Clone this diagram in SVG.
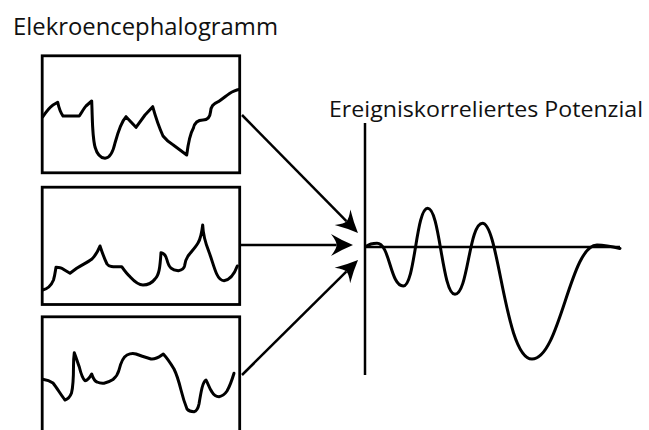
<svg xmlns="http://www.w3.org/2000/svg" width="649" height="430" viewBox="0 0 649 430">
<style>
.frame{fill:none;stroke:#000;stroke-width:2.8}
.wave{fill:none;stroke:#000;stroke-width:3;stroke-linejoin:round;stroke-linecap:round}
.axis{fill:none;stroke:#000;stroke-width:2.5}
.conn{fill:none;stroke:#000;stroke-width:2.5}
.lbl{font-family:"Open Sans","Noto Sans",sans-serif;font-size:24px;fill:#111}
.lbl2{font-family:"Open Sans","Noto Sans",sans-serif;font-size:22.5px;fill:#111}
</style>
<defs>
<marker id="arr" markerUnits="userSpaceOnUse" markerWidth="24" markerHeight="24" viewBox="0 0 24 24" refX="6.5" refY="12" orient="auto">
<path d="M23,12 Q12,7.5 1,1 Q7,9 6.5,12 Q7,15 1,23 Q12,16.5 23,12 Z" fill="#000"/>
</marker>
</defs>
<rect width="649" height="430" fill="#fff"/>
<g id="title-eeg"><text class="lbl" x="13" y="35" textLength="265" lengthAdjust="spacingAndGlyphs">Elekroencephalogramm</text></g>
<g id="eeg1">
<rect class="frame" x="42.2" y="55.8" width="197.5" height="117"/>
<path class="wave" d="M42.7,117 C46,112 50,107 53,105 L57.7,102.3 C58.5,106 60,112 63,116 L79.3,116 C82,112 84,108 86,106 L91.7,101 C92.5,118 92,135 95,147 C97,154 101,158 105,158.3 C110,158 113,152 115,143 C118,132 122,121 126,116.7 L136,127.3 L145,115 L152.7,106.7 C155,115 158,125 163,136 C167,141 170,143 173.3,145 L186.7,155 C188,145 190,134 193.3,128.3 C195,121 199,120 203,120 C208,120 210,117 210.5,112 C211,106 213,104 218.3,101.7 C224,98 228,94 232,92 C235,90.5 237,90 239,89.3"/>
</g>
<g id="eeg2">
<rect class="frame" x="42.2" y="187.2" width="197.5" height="117.3"/>
<path class="wave" d="M42.7,290 C47,289 51,286 53.5,280 C55,275 55.5,270 56,267.3 C60,267.5 62,268 63.3,269.3 L70,273.3 L76.7,268.3 C82,265 88,262 92,259 C96,255 98,251 100,246 C102,252 104,258 107,264 C109,267 112,267 121.7,266.7 C124,270 127,274 130,276.7 C134,281 138,285 143,285 C148,285 152,283 155,279 C159,275 160,268 161,252.7 C164,253 166,256 167,260 C169,268 172,270 178.3,270.7 C182,270 184,269 184.5,266 C185,262 186,259 188,256 C191,252 195,248 198,243 C201,238 202,231 202.7,225 C203,233 205,242 209,252 C212,260 214,268 216.7,274 C219,279 221,280.7 224,280.7 C229,280 234,275 237.3,266"/>
</g>
<g id="eeg3">
<rect class="frame" x="42.2" y="316.8" width="197.5" height="130"/>
<path class="wave" d="M42.7,379.3 C47,380 50,381 53,383 C57,388 61,395 65,400 C68,399 70,397 71.5,393 C73,387 73.5,375 73.5,366 C73.5,360 74,355 74.3,352.7 C76,357 77.5,362 79.3,367 C81,374 82,378 85,380.7 C88,380.5 89.5,378 91.7,374 C93,378 94,381 97,382 C99,383 101,383.5 104,383.2 C107,382.5 110,381.5 113,379.5 C116,377 118,374 119,370 C121,362 123,357 127,355 C131,353 133,353 136,354 C141,356 146,357.5 151,359 C156,359.7 159,357 163.3,354 C167,358 171,364 174,369 C177,375 179,382 181,390 C183,398 185,404 187,409 C189,411.5 191,411.7 194,411.7 C197,411 198,409 199,404 C200,398 201,392 202,388 C203,384 204,381 206,380 C208,383 209,388 212,392 C214,395.5 216,396.7 219,396.7 C223,396 225,394 227,391 C230,386 232,380 234,373.3"/>
</g>
<g id="erp">
<text class="lbl2" x="329" y="116.5" textLength="314" lengthAdjust="spacingAndGlyphs">Ereigniskorreliertes Potenzial</text>
<line class="axis" x1="365" y1="123" x2="365" y2="375"/>
<line class="axis" x1="365" y1="247" x2="620" y2="247"/>
<path class="wave" d="M366,246.5 C370,243.6 373,243.3 377,243.3 C390,243.3 390,286 403.3,286 C415,286 416,208.3 427.7,208.3 C440,208.3 442,294.3 455,294.3 C468,294.3 469,223.3 482.5,223.3 C499,223.3 505,359 532,359 C560,359 570,245 597,245 C606,245 614,247 620,248.5"/>
</g>
<g id="connectors">
<line class="conn" x1="242" y1="115" x2="346.4" y2="221.2" marker-end="url(#arr)"/>
<line class="conn" x1="241" y1="245" x2="336.5" y2="245" marker-end="url(#arr)"/>
<line class="conn" x1="242" y1="375" x2="346.3" y2="271.6" marker-end="url(#arr)"/>
</g>
</svg>
